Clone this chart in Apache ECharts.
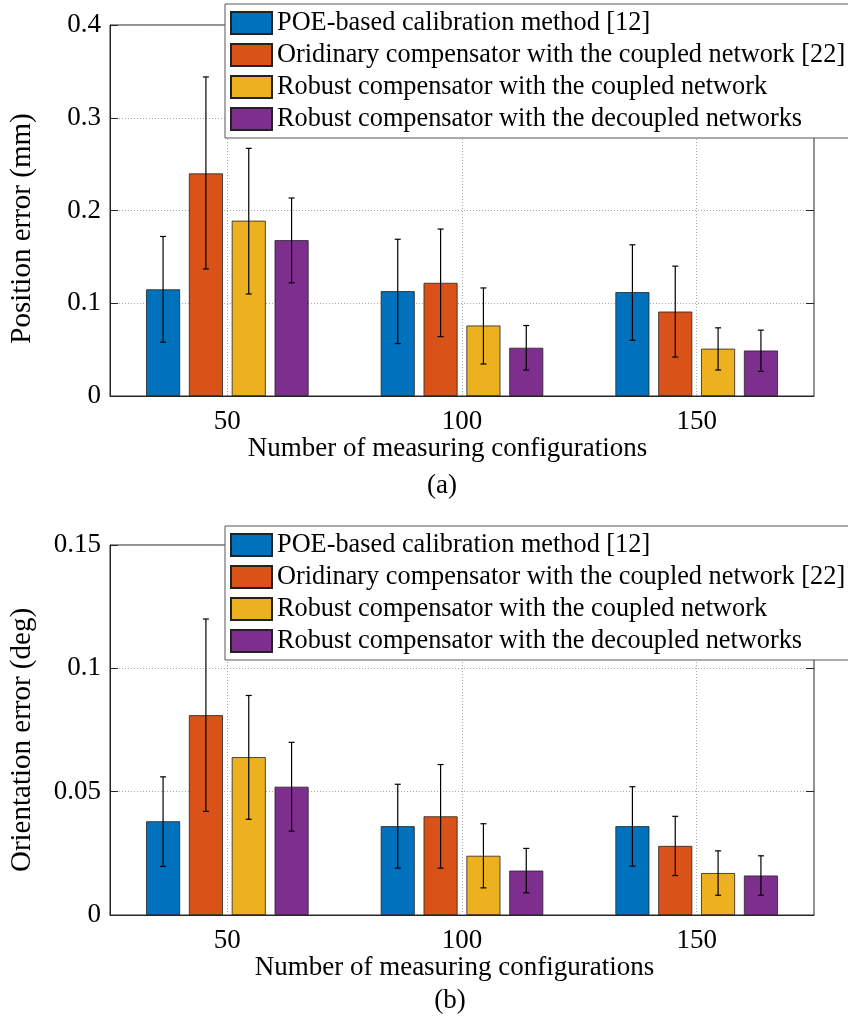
<!DOCTYPE html>
<html>
<head>
<meta charset="utf-8">
<script src="https://cdn.jsdelivr.net/npm/echarts@6/dist/echarts.min.js"></script>
<style>html,body{margin:0;padding:0;background:#fff;}#c{width:848px;height:1021px;}</style>
</head>
<body>
<div id="c"></div>
<script>
// ---------- data ----------
const categories = ['50', '100', '150'];
const seriesNames = [
  'POE-based calibration method [12]',
  'Oridinary compensator with the coupled network [22]',
  'Robust compensator with the coupled network',
  'Robust compensator with the decoupled networks'
];
const colors = ['#0072BD', '#D95319', '#EDB120', '#7E2F8E'];

// (a) position error (mm)
const posPOE      = [0.115, 0.113, 0.112];
const posOrd      = [0.240, 0.122, 0.091];
const posRobC     = [0.189, 0.076, 0.051];
const posRobD     = [0.168, 0.052, 0.049];
const posPOELow   = [0.058, 0.0565, 0.060];
const posPOEHigh  = [0.172, 0.169, 0.163];
const posOrdLow   = [0.137, 0.064, 0.042];
const posOrdHigh  = [0.344, 0.180, 0.140];
const posRobCLow  = [0.110, 0.0345, 0.028];
const posRobCHigh = [0.267, 0.1165, 0.0735];
const posRobDLow  = [0.122, 0.028, 0.0265];
const posRobDHigh = [0.2135, 0.076, 0.071];

// (b) orientation error (deg)
const oriPOE      = [0.038, 0.036, 0.036];
const oriOrd      = [0.081, 0.040, 0.028];
const oriRobC     = [0.064, 0.024, 0.017];
const oriRobD     = [0.052, 0.018, 0.016];
const oriPOELow   = [0.0197, 0.019, 0.0198];
const oriPOEHigh  = [0.056, 0.053, 0.052];
const oriOrdLow   = [0.042, 0.019, 0.016];
const oriOrdHigh  = [0.120, 0.061, 0.040];
const oriRobCLow  = [0.0388, 0.011, 0.008];
const oriRobCHigh = [0.089, 0.037, 0.026];
const oriRobDLow  = [0.034, 0.009, 0.008];
const oriRobDHigh = [0.070, 0.027, 0.024];

const posTicks = {min: 0, max: 0.4, interval: 0.1};
const oriTicks = {min: 0, max: 0.15, interval: 0.05};

// ---------- chart ----------
const FONT = "'Liberation Serif','Times New Roman',serif";
const AX = '#262626';
const BAR_W = 34;
const BAR_GAP = 0.26;
const STEP = BAR_W * (1 + BAR_GAP);

const chart = echarts.init(document.getElementById('c'), null, {renderer: 'canvas'});

function errRender(offset) {
  return function (params, api) {
    const idx = api.value(0);
    const x = api.coord([idx, 0])[0] + offset;
    const yl = api.coord([idx, api.value(1)])[1];
    const yh = api.coord([idx, api.value(2)])[1];
    const c = 3;
    const st = {stroke: '#000', lineWidth: 1.2};
    return {type: 'group', children: [
      {type: 'line', shape: {x1: x, y1: yl, x2: x, y2: yh}, style: st},
      {type: 'line', shape: {x1: x - c, y1: yh, x2: x + c, y2: yh}, style: st},
      {type: 'line', shape: {x1: x - c, y1: yl, x2: x + c, y2: yl}, style: st}
    ]};
  };
}

function xAxisFor(gi, nameShift) {
  return {
    type: 'category', gridIndex: gi, data: categories,
    axisLine: {lineStyle: {color: AX, width: 1}},
    axisTick: {inside: true, length: 8, alignWithLabel: true, lineStyle: {color: AX}},
    axisLabel: {fontSize: 27, fontFamily: FONT, color: '#000', margin: 12},
    splitLine: {show: true, alignWithLabel: true, lineStyle: {color: '#aaa', type: [1, 2], width: 1}},
    name: 'Number of measuring configurations', nameLocation: 'middle', nameGap: 38,
    nameTextStyle: {fontSize: 27, fontFamily: FONT, color: '#000', padding: [0, nameShift, 0, 0]}
  };
}
function yAxisFor(gi, t, name, shift) {
  return {
    type: 'value', gridIndex: gi, min: t.min, max: t.max, interval: t.interval,
    axisLine: {show: true, lineStyle: {color: AX, width: 1}},
    axisTick: {show: true, inside: true, length: 8, lineStyle: {color: AX}},
    axisLabel: {fontSize: 27, fontFamily: FONT, color: '#000', margin: 9},
    splitLine: {show: true, lineStyle: {color: '#aaa', type: [1, 2], width: 1}},
    name: name, nameLocation: 'middle', nameGap: 73, nameRotate: 90,
    nameTextStyle: {fontSize: 29, fontFamily: FONT, color: '#000', padding: [0, shift, 0, 0]}
  };
}
function yRightFor(gi, t) {
  return {
    type: 'value', gridIndex: gi, position: 'right', min: t.min, max: t.max, interval: t.interval,
    axisLine: {show: false}, axisLabel: {show: false}, splitLine: {show: false},
    axisTick: {show: true, inside: true, length: 8, lineStyle: {color: AX}}
  };
}
function legendFor(top) {
  return {
    orient: 'vertical', left: 225, top: top, data: seriesNames, icon: 'rect',
    itemWidth: 41, itemHeight: 22, itemGap: 6,
    padding: [6, 14, 6, 5], backgroundColor: '#fff', borderColor: '#555', borderWidth: 1,
    selectedMode: false,
    textStyle: {fontSize: 26.3, fontFamily: FONT, color: '#000'}
  };
}

const posMeans = [posPOE, posOrd, posRobC, posRobD];
const posLows = [posPOELow, posOrdLow, posRobCLow, posRobDLow];
const posHighs = [posPOEHigh, posOrdHigh, posRobCHigh, posRobDHigh];
const oriMeans = [oriPOE, oriOrd, oriRobC, oriRobD];
const oriLows = [oriPOELow, oriOrdLow, oriRobCLow, oriRobDLow];
const oriHighs = [oriPOEHigh, oriOrdHigh, oriRobCHigh, oriRobDHigh];

const series = [];
function addPanel(gi, yi, means, lows, highs) {
  means.forEach((m, k) => {
    series.push({
      type: 'bar', name: seriesNames[k], xAxisIndex: gi, yAxisIndex: yi, data: m,
      barWidth: BAR_W, barGap: (BAR_GAP * 100) + '%',
      itemStyle: {color: colors[k], borderColor: '#222', borderWidth: 0.8},
      emphasis: {disabled: true}, z: 2
    });
  });
  means.forEach((m, k) => {
    series.push({
      type: 'custom', name: 'err' + gi + '_' + k, xAxisIndex: gi, yAxisIndex: yi, z: 3,
      renderItem: errRender((k - 1.5) * STEP),
      data: categories.map((c, i) => [i, lows[k][i], highs[k][i]]),
      silent: true
    });
  });
}
addPanel(0, 0, posMeans, posLows, posHighs);
addPanel(1, 2, oriMeans, oriLows, oriHighs);

chart.setOption({
  animation: false,
  backgroundColor: '#fff',
  textStyle: {fontFamily: FONT},
  title: [
    {text: '(a)', left: 442, top: 472, textAlign: 'center', padding: 0,
     textStyle: {fontSize: 27, fontFamily: FONT, fontWeight: 'normal', color: '#000'}},
    {text: '(b)', left: 450, top: 987, textAlign: 'center', padding: 0,
     textStyle: {fontSize: 27, fontFamily: FONT, fontWeight: 'normal', color: '#000'}}
  ],
  legend: [legendFor(4), legendFor(526)],
  grid: [
    {left: 109, top: 25, width: 705, height: 371, show: true, borderColor: AX, borderWidth: 1, backgroundColor: 'transparent'},
    {left: 110, top: 545, width: 704, height: 370, show: true, borderColor: AX, borderWidth: 1, backgroundColor: 'transparent'}
  ],
  xAxis: [xAxisFor(0, 29), xAxisFor(1, 15)],
  yAxis: [
    yAxisFor(0, posTicks, 'Position error (mm)', 36),
    yRightFor(0, posTicks),
    yAxisFor(1, oriTicks, 'Orientation error (deg)', 20),
    yRightFor(1, oriTicks)
  ],
  series: series
});
</script>
</body>
</html>
